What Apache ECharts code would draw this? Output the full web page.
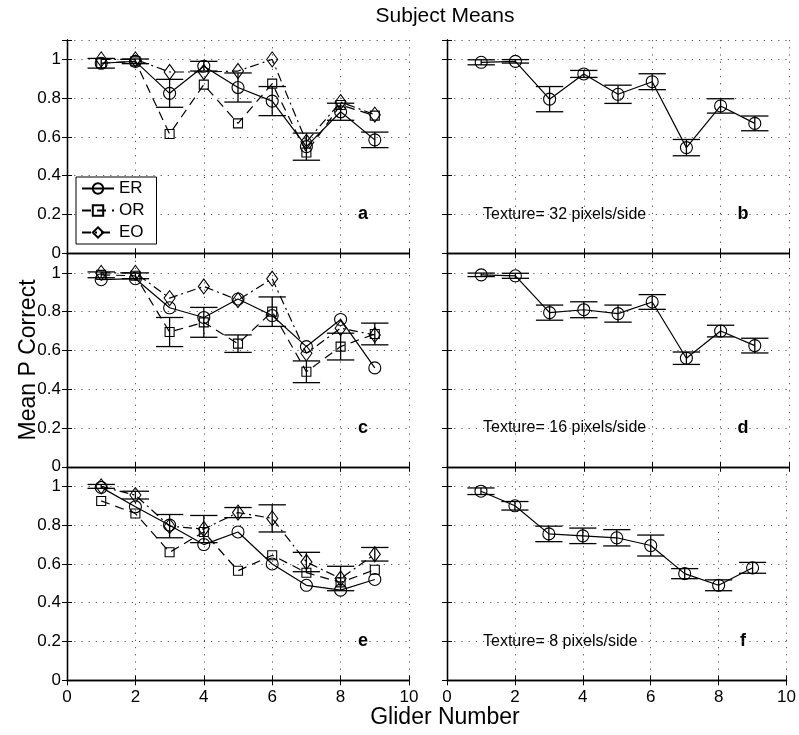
<!DOCTYPE html>
<html>
<head>
<meta charset="utf-8">
<title>Subject Means</title>
<script src="https://cdn.jsdelivr.net/npm/echarts@6/dist/echarts.min.js"></script>
<style>
  html, body { margin: 0; padding: 0; background: #fff; }
  #chart { width: 799px; height: 735px; }
</style>
</head>
<body>
<div id="chart"></div>
<script>
// glider numbers on the x axis
var gliders = [1, 2, 3, 4, 5, 6, 7, 8, 9];
var groups = ['ER', 'OR', 'EO'];

// panel a
var aER = [0.98, 0.99, 0.825, 0.965, 0.855, 0.785, 0.55, 0.73, 0.585];
var aOR = [0.98, 0.99, 0.615, 0.87, 0.67, 0.875, 0.52, 0.765, 0.71];
var aEO = [1.0, 1.0, 0.935, 0.935, 0.94, 1.0, 0.575, 0.78, 0.715];
var aErr = [0.025, 0.012, 0.072, 0.025, 0.075, 0.075, 0.07, 0.044, 0.04];   // on ER

// panel c
var cER = [0.965, 0.97, 0.82, 0.77, 0.865, 0.78, 0.62, 0.76, 0.51];
var cOR = [0.99, 0.985, 0.695, 0.745, 0.635, 0.8, 0.49, 0.62, 0.685];
var cEO = [1.0, 1.0, 0.87, 0.93, 0.86, 0.97, 0.585, 0.715, 0.68];
var cErr = [0.015, 0.015, 0.075, 0.077, 0.045, 0.076, 0.056, 0.069, 0.056]; // on OR

// panel e
var eER = [0.995, 0.895, 0.8, 0.7, 0.765, 0.6, 0.49, 0.465, 0.52];
var eOR = [0.925, 0.86, 0.66, 0.765, 0.565, 0.645, 0.555, 0.505, 0.57];
var eEO = [1.0, 0.955, 0.795, 0.78, 0.865, 0.835, 0.61, 0.525, 0.65];
var eErr = [0.01, 0.02, 0.06, 0.07, 0.026, 0.07, 0.05, 0.063, 0.035];      // on EO

// panels b, d, f (ER only)
var bER = [0.985, 0.99, 0.795, 0.925, 0.82, 0.885, 0.545, 0.76, 0.67];
var bErr = [0.013, 0.009, 0.065, 0.018, 0.047, 0.041, 0.042, 0.037, 0.038];
var dER = [0.99, 0.985, 0.795, 0.81, 0.79, 0.85, 0.56, 0.7, 0.625];
var dErr = [0.009, 0.013, 0.039, 0.041, 0.044, 0.038, 0.032, 0.03, 0.038];
var fER = [0.975, 0.9, 0.755, 0.745, 0.735, 0.695, 0.55, 0.49, 0.58];
var fErr = [0.017, 0.022, 0.04, 0.04, 0.042, 0.054, 0.026, 0.028, 0.028];

var panelLetters = ['a', 'b', 'c', 'd', 'e', 'f'];
var textureLabels = ['Texture= 32 pixels/side', 'Texture= 16 pixels/side', 'Texture= 8 pixels/side'];

var FONT = 'Liberation Sans, Arial, Helvetica, sans-serif';
var chart = echarts.init(document.getElementById('chart'));

var lefts = [67, 447];
var tops = [40, 253.5, 467];
var W = 342, H = 213.3;
var Y_MAX = 1.1;

var panels = [
  { row: 0, col: 0, lines: { ER: aER, OR: aOR, EO: aEO }, errOn: 'ER', err: aErr },
  { row: 0, col: 1, lines: { ER: bER }, errOn: 'ER', err: bErr },
  { row: 1, col: 0, lines: { ER: cER, OR: cOR, EO: cEO }, errOn: 'OR', err: cErr },
  { row: 1, col: 1, lines: { ER: dER }, errOn: 'ER', err: dErr },
  { row: 2, col: 0, lines: { ER: eER, OR: eOR, EO: eEO }, errOn: 'EO', err: eErr },
  { row: 2, col: 1, lines: { ER: fER }, errOn: 'ER', err: fErr }
];

// open (see-through) markers, as in the original plot
var styles = {
  ER: { symbol: 'circle', symbolSize: 12, type: 'solid' },
  OR: { symbol: 'rect', symbolSize: 9, type: [9, 6] },
  EO: { symbol: 'diamond', symbolSize: [11, 15], type: [9, 4, 2, 4] }
};

function pairs(vals) {
  return gliders.map(function (g, i) { return [g, vals[i]]; });
}

function errorBar(params, api) {
  var x = api.value(0);
  var lo = api.coord([x, api.value(1)]);
  var hi = api.coord([x, api.value(2)]);
  var half = api.size([0.4, 0])[0];
  var st = { stroke: '#000', lineWidth: 1.3, fill: null };
  return {
    type: 'group',
    children: [
      { type: 'line', shape: { x1: lo[0], y1: lo[1], x2: hi[0], y2: hi[1] }, style: st },
      { type: 'line', shape: { x1: lo[0] - half, y1: lo[1], x2: lo[0] + half, y2: lo[1] }, style: st },
      { type: 'line', shape: { x1: hi[0] - half, y1: hi[1], x2: hi[0] + half, y2: hi[1] }, style: st }
    ]
  };
}

var grid = [], xAxis = [], yAxis = [], series = [], graphic = [];
var dotted = { color: '#555', width: 1, type: [1.2, 6] };

panels.forEach(function (p, i) {
  var left = lefts[p.col], top = tops[p.row];
  grid.push({ left: left, top: top, width: W, height: H, containLabel: false });
  var tickStyle = { show: true, inside: true, length: 5, lineStyle: { color: '#000', width: 1 } };
  var axisLine = { show: true, lineStyle: { color: '#000', width: 1.3 } };
  xAxis.push({
    type: 'value', gridIndex: i, position: 'bottom', min: 0, max: 10, interval: 2,
    axisLine: axisLine, axisTick: tickStyle,
    axisLabel: { show: p.row === 2, color: '#000', fontSize: 17, fontFamily: FONT, margin: 9 },
    splitLine: { show: true, lineStyle: dotted }
  });
  xAxis.push({
    type: 'value', gridIndex: i, position: 'top', min: 0, max: 10, interval: 2,
    axisLine: axisLine, axisTick: tickStyle, axisLabel: { show: false }, splitLine: { show: false }
  });
  yAxis.push({
    type: 'value', gridIndex: i, position: 'left', min: 0, max: Y_MAX, interval: 0.2,
    axisLine: axisLine, axisTick: tickStyle,
    axisLabel: {
      show: p.col === 0, color: '#000', fontSize: 17, fontFamily: FONT, margin: 6,
      formatter: function (v) { return v > 1.05 ? '' : String(Math.round(v * 10) / 10); }
    },
    splitLine: { show: true, lineStyle: dotted }
  });
  yAxis.push({
    type: 'value', gridIndex: i, position: 'right', min: 0, max: Y_MAX, interval: 0.2,
    axisLine: axisLine, axisTick: tickStyle, axisLabel: { show: false }, splitLine: { show: false }
  });

  groups.forEach(function (g) {
    if (!p.lines[g]) return;
    var s = styles[g];
    series.push({
      name: g, type: 'line', xAxisIndex: 2 * i, yAxisIndex: 2 * i,
      data: pairs(p.lines[g]),
      symbol: s.symbol, symbolSize: s.symbolSize,
      itemStyle: { color: 'rgba(0,0,0,0)', borderColor: '#000', borderWidth: 1.1 },
      lineStyle: { color: '#000', width: 1.2, type: s.type },
      silent: true
    });
  });

  var centre = p.lines[p.errOn];
  series.push({
    type: 'custom', xAxisIndex: 2 * i, yAxisIndex: 2 * i,
    renderItem: errorBar, silent: true, z: 3,
    data: gliders.map(function (g, k) { return [g, centre[k] - p.err[k], centre[k] + p.err[k]]; })
  });

  // panel letter and texture note sit on the 0.2 grid line
  var y02 = top + H * (1 - 0.2 / Y_MAX);
  graphic.push({
    type: 'text', x: left + 296, y: y02,
    style: { text: panelLetters[i], font: 'bold 18px ' + FONT, fill: '#000',
             align: 'center', verticalAlign: 'middle', textAlign: 'center', textVerticalAlign: 'middle' }
  });
  if (p.col === 1) {
    graphic.push({
      type: 'text', x: left + 36, y: y02,
      style: { text: textureLabels[p.row], font: '16px ' + FONT, fill: '#000',
               align: 'left', verticalAlign: 'middle', textAlign: 'left', textVerticalAlign: 'middle' }
    });
  }
});

graphic.push({
  type: 'text', x: 445, y: 16,
  style: { text: 'Subject Means', font: '21px ' + FONT, fill: '#000',
           align: 'center', verticalAlign: 'middle', textAlign: 'center', textVerticalAlign: 'middle' }
});
graphic.push({
  type: 'text', x: 445, y: 718,
  style: { text: 'Glider Number', font: '23px ' + FONT, fill: '#000',
           align: 'center', verticalAlign: 'middle', textAlign: 'center', textVerticalAlign: 'middle' }
});
graphic.push({
  type: 'text', x: 29, y: 360, rotation: Math.PI / 2,
  style: { text: 'Mean P Correct', font: '23px ' + FONT, fill: '#000',
           align: 'center', verticalAlign: 'middle', textAlign: 'center', textVerticalAlign: 'middle' }
});

chart.setOption({
  animation: false,
  backgroundColor: '#fff',
  grid: grid,
  xAxis: xAxis,
  yAxis: yAxis,
  legend: {
    data: groups, orient: 'vertical', left: 76, top: 177,
    backgroundColor: '#fff', borderColor: '#000', borderWidth: 1,
    padding: [3, 12, 3, 5], itemGap: 5, itemWidth: 32, itemHeight: 13,
    textStyle: { fontSize: 17, fontFamily: FONT, color: '#000' },
    selectedMode: false
  },
  series: series,
  graphic: graphic
});
</script>
</body>
</html>
